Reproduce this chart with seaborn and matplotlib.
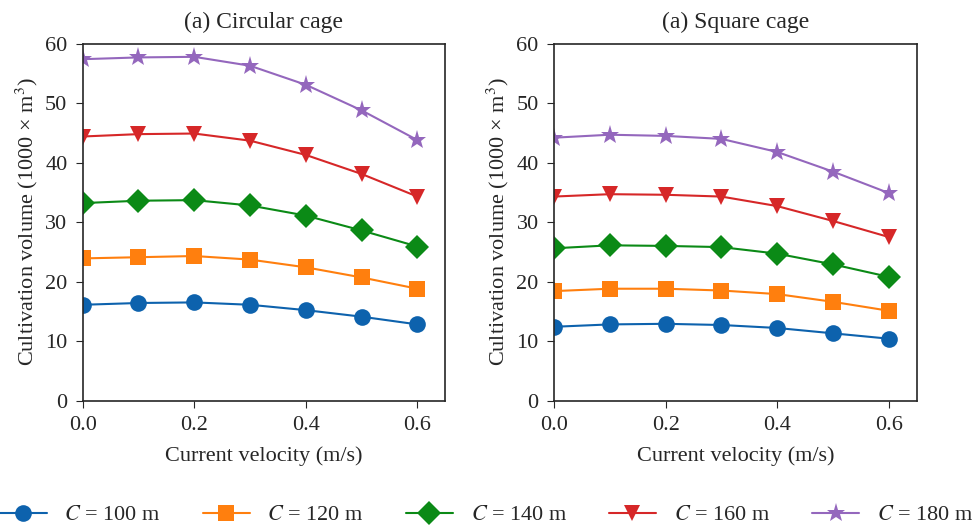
import matplotlib
matplotlib.use("Agg")
import matplotlib.pyplot as plt
import seaborn as sns
import pandas as pd

# Current velocity (m/s)
velocity = [0.0, 0.1, 0.2, 0.3, 0.4, 0.5, 0.6]
spans = [100, 120, 140, 160, 180]

# Cultivation volume (1000 x m^3), circular cage
circ_100 = [16.1, 16.4, 16.5, 16.1, 15.2, 14.1, 12.8]
circ_120 = [23.9, 24.1, 24.3, 23.7, 22.4, 20.7, 18.8]
circ_140 = [33.2, 33.6, 33.7, 32.8, 31.1, 28.6, 25.9]
circ_160 = [44.4, 44.8, 44.9, 43.7, 41.3, 38.1, 34.3]
circ_180 = [57.4, 57.7, 57.8, 56.3, 53.1, 48.8, 43.8]

# square cage
sq_100 = [12.4, 12.8, 12.9, 12.7, 12.2, 11.3, 10.4]
sq_120 = [18.4, 18.8, 18.8, 18.5, 17.9, 16.6, 15.1]
sq_140 = [25.6, 26.1, 26.0, 25.8, 24.7, 22.9, 20.8]
sq_160 = [34.3, 34.7, 34.6, 34.3, 32.7, 30.2, 27.5]
sq_180 = [44.2, 44.7, 44.5, 44.0, 41.8, 38.5, 34.9]

titles = ["(a) Circular cage", "(a) Square cage"]
colors = ["#0d62ad", "#ff7f0e", "#0b8a16", "#d62728", "#9467bd"]
markers = ["o", "s", "D", "v", "*"]


def to_frame(series):
    rows = []
    for c, vals in zip(spans, series):
        label = f"$C$ = {c} m"
        for v, y in zip(velocity, vals):
            rows.append({"velocity": v, "volume": y, "span": label})
    return pd.DataFrame(rows)


sns.set_style("ticks")
plt.rcParams["font.family"] = ["Liberation Serif", "DejaVu Serif"]
plt.rcParams["mathtext.fontset"] = "stix"
plt.rcParams["font.size"] = 16

frames = [
    to_frame([circ_100, circ_120, circ_140, circ_160, circ_180]),
    to_frame([sq_100, sq_120, sq_140, sq_160, sq_180]),
]

fig, axes = plt.subplots(1, 2, figsize=(9.73, 5.27), dpi=100)
for ax, df, title in zip(axes, frames, titles):
    sns.lineplot(
        data=df, x="velocity", y="volume", hue="span", style="span",
        markers=markers, dashes=False, palette=colors, markersize=12,
        markeredgewidth=0, linewidth=1.5, ax=ax,
    )
    # star glyph reads small, bump it up
    for line in ax.get_lines():
        if line.get_marker() == "*":
            line.set_markersize(14)
    ax.set_xlim(0, 0.65)
    ax.set_ylim(0, 60)
    ax.set_xticks([0.0, 0.2, 0.4, 0.6])
    ax.set_yticks(range(0, 61, 10))
    ax.set_title(title, fontsize=17, pad=11)
    ax.set_xlabel("Current velocity (m/s)", fontsize=16, labelpad=8)
    ax.set_ylabel("Cultivation volume (1000 × m$^3$)", fontsize=16)
    ax.tick_params(labelsize=16, direction="out", length=5, pad=6)
    for s in ax.spines.values():
        s.set_linewidth(1.2)

handles, labels = axes[0].get_legend_handles_labels()
for h in handles:
    if h.get_marker() == "*":
        h.set_markersize(14)
for ax in axes:
    ax.get_legend().remove()
fig.legend(handles, labels, loc="lower center", ncol=5, frameon=False,
           fontsize=16, bbox_to_anchor=(0.5, -0.035), columnspacing=1.9,
           handlelength=2.1, handletextpad=0.8)

fig.subplots_adjust(left=0.085, right=0.942, top=0.917, bottom=0.24, wspace=0.3)
fig.savefig("out.png", dpi=100)
